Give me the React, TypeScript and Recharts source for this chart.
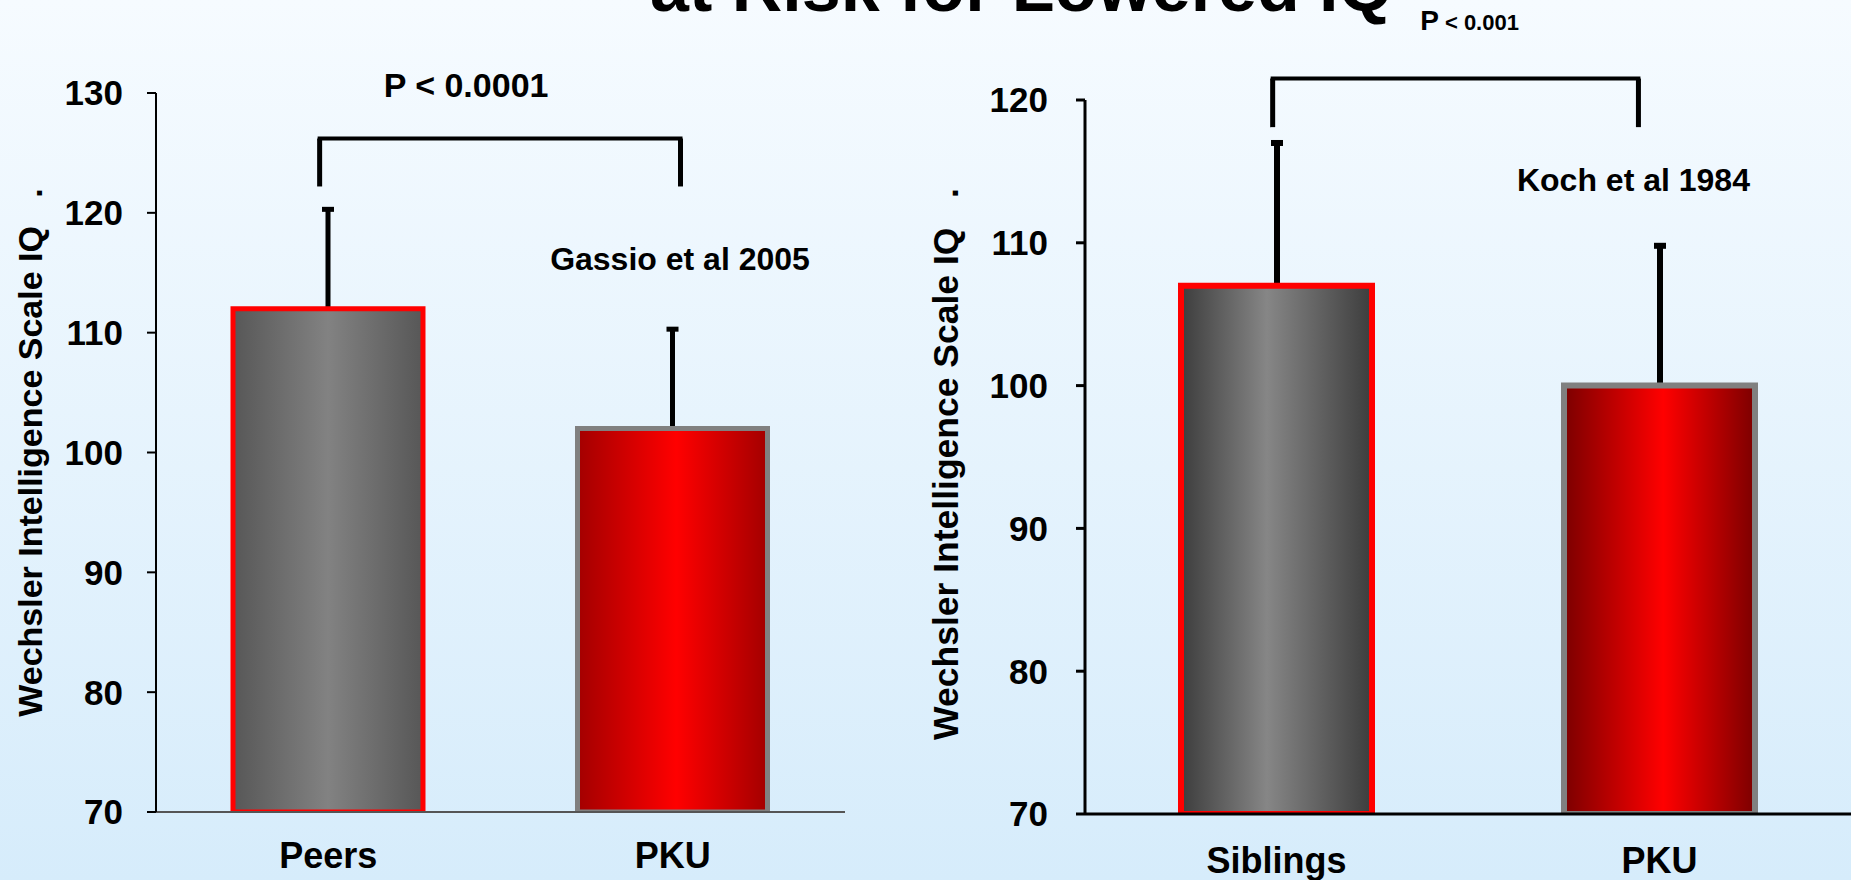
import React from 'react';
import { BarChart, Bar, XAxis, YAxis, Cell, ReferenceLine, ReferenceDot } from 'recharts';

// ---------- data ----------
const leftCategories = ['Peers', 'PKU'];
const leftMeans = [112, 102];
const leftSD = [8.5, 8.5];
const leftTicks = [70, 80, 90, 100, 110, 120, 130];

const rightCategories = ['Siblings', 'PKU'];
const rightMeans = [107, 100];
const rightSD = [10.2, 10];
const rightTicks = [70, 80, 90, 100, 110, 120];

const yAxisTitle = 'Wechsler Intelligence Scale IQ\u00A0\u00A0\u00A0.';
const slideTitle = 'at Risk for Lowered IQ';

// annotation positions in data units (x: 0..2 across the category axis)
const leftBracketX = [0.475, 1.5225];
const leftBracketY = [126.2, 122.2];
const rightBracketX = [0.49, 1.445];
const rightBracketY = [121.5, 118.1];
const leftPText = { x: 0.9, y: 129.7, text: 'P < 0.0001' };
const leftRefText = { x: 1.521, y: 115.2, text: 'Gassio et al 2005' };
const rightPText = { x: 0.875, y: 124.9, big: 'P', small: ' < 0.001' };
const rightRefText = { x: 1.432, y: 113.6, text: 'Koch et al 1984' };

const FONT = '"Liberation Sans", Arial, Helvetica, sans-serif';

const buildRows = (cats: string[], means: number[], sds: number[]) =>
  cats.map((c, i) => ({ cat: c, iq: means[i], sd: sds[i], pos: i + 0.5 }));

const leftRows = buildRows(leftCategories, leftMeans, leftSD);
const rightRows = buildRows(rightCategories, rightMeans, rightSD);

const makeWhisker = (w: number, cap: number) => (props: any) => {
  const { x, y, width, height } = props;
  if (x == null || y == null) return <g />;
  const cx = x + width / 2;
  return (
    <g>
      <line x1={cx} x2={cx} y1={y + height} y2={y + 2} stroke="#000" strokeWidth={w} />
      <rect x={cx - cap / 2} y={y} width={cap} height={w} fill="#000" />
    </g>
  );
};

const textLabel = (text: string, size: number, anchor: string) => (props: any) => {
  const vb = props.viewBox || {};
  const x = (vb.x ?? 0) + (vb.width ?? 0) / 2;
  const y = (vb.y ?? 0) + (vb.height ?? 0) / 2;
  return (
    <text x={x} y={y} textAnchor={anchor} fontFamily={FONT} fontWeight="bold" fontSize={size} fill="#000">
      {text}
    </text>
  );
};

const pLabelSmall = (big: string, small: string) => (props: any) => {
  const vb = props.viewBox || {};
  const x = (vb.x ?? 0) + (vb.width ?? 0) / 2;
  const y = (vb.y ?? 0) + (vb.height ?? 0) / 2;
  return (
    <text x={x} y={y} textAnchor="start" fontFamily={FONT} fontWeight="bold" fill="#000">
      <tspan fontSize={28}>{big}</tspan>
      <tspan fontSize={22}>{small}</tspan>
    </text>
  );
};

const yTitle = (dx: number, dy: number, size: number) => (props: any) => {
  const vb = props.viewBox || {};
  const bx = (vb.x ?? 0) + dx;
  const cy = (vb.y ?? 0) + (vb.height ?? 0) / 2 + dy;
  return (
    <text
      x={bx}
      y={cy}
      transform={`rotate(-90, ${bx}, ${cy})`}
      textAnchor="middle"
      fontFamily={FONT}
      fontWeight="bold"
      fontSize={size}
      fill="#000"
    >
      {yAxisTitle}
    </text>
  );
};

function App() {
  const tickStyle = { fontFamily: FONT, fontWeight: 'bold', fontSize: 35, fill: '#000' } as any;
  const catStyle = { fontFamily: FONT, fontWeight: 'bold', fontSize: 36, fill: '#000' } as any;

  return (
    <div style={{ position: 'fixed', left: 0, top: 0, width: 1851, height: 880, overflow: 'hidden' }}>
      <svg width={1851} height={880} style={{ position: 'absolute', left: 0, top: 0 }}>
        <defs>
          <linearGradient id="bgGrad" x1="0" y1="0" x2="0" y2="1">
            <stop offset="0%" stopColor="#f6fbff" />
            <stop offset="100%" stopColor="#d6ecfb" />
          </linearGradient>
        </defs>
        <rect x={0} y={0} width={1851} height={880} fill="url(#bgGrad)" />
        <text x={1393} y={11} textAnchor="end" fontFamily={FONT} fontWeight="bold" fontSize={70} fill="#000">
          {slideTitle}
        </text>
      </svg>

      {/* Left chart */}
      <div style={{ position: 'absolute', left: 0, top: 0 }}>
        <BarChart
          width={900}
          height={880}
          data={leftRows}
          margin={{ top: 93, right: 55, bottom: 8, left: 56 }}
          barCategoryGap={0}
        >
          <defs>
            <linearGradient id="greyL" x1="0" y1="0" x2="1" y2="0">
              <stop offset="0%" stopColor="#575757" />
              <stop offset="50%" stopColor="#828282" />
              <stop offset="100%" stopColor="#575757" />
            </linearGradient>
            <linearGradient id="redL" x1="0" y1="0" x2="1" y2="0">
              <stop offset="0%" stopColor="#a30000" />
              <stop offset="52%" stopColor="#ff0000" />
              <stop offset="100%" stopColor="#a30000" />
            </linearGradient>
          </defs>
          <XAxis
            dataKey="cat"
            height={60}
            tick={catStyle}
            tickLine={false}
            tickSize={6}
            tickMargin={24}
            axisLine={{ stroke: '#555', strokeWidth: 2 }}
          />
          <XAxis xAxisId="w" dataKey="cat" hide />
          <XAxis xAxisId="n" dataKey="pos" type="number" domain={[0, 2]} allowDataOverflow hide />
          <YAxis
            width={100}
            domain={[70, 130]}
            ticks={leftTicks}
            interval={0}
            allowDataOverflow
            tick={tickStyle}
            tickSize={9}
            tickMargin={24}
            tickLine={{ stroke: '#000', strokeWidth: 2 }}
            axisLine={{ stroke: '#000', strokeWidth: 2 }}
            label={{ content: yTitle(-14, 0, 34) } as any}
          />
          <Bar
            xAxisId="w"
            dataKey={(d: any) => [d.iq, d.iq + d.sd]}
            barSize={20}
            isAnimationActive={false}
            shape={makeWhisker(5, 12)}
          />
          <Bar dataKey="iq" barSize={190} strokeWidth={5} isAnimationActive={false}>
            <Cell fill="url(#greyL)" stroke="#ff0000" />
            <Cell fill="url(#redL)" stroke="#808080" />
          </Bar>
          <ReferenceLine
            xAxisId="n"
            ifOverflow="visible"
            segment={[{ x: leftBracketX[0], y: leftBracketY[0] }, { x: leftBracketX[1], y: leftBracketY[0] }]}
            stroke="#000"
            strokeWidth={4}
            strokeLinecap="square"
          />
          <ReferenceLine
            xAxisId="n"
            ifOverflow="visible"
            segment={[{ x: leftBracketX[0], y: leftBracketY[0] }, { x: leftBracketX[0], y: leftBracketY[1] }]}
            stroke="#000"
            strokeWidth={5}
          />
          <ReferenceLine
            xAxisId="n"
            ifOverflow="visible"
            segment={[{ x: leftBracketX[1], y: leftBracketY[0] }, { x: leftBracketX[1], y: leftBracketY[1] }]}
            stroke="#000"
            strokeWidth={5}
          />
          <ReferenceDot
            xAxisId="n"
            x={leftPText.x}
            y={leftPText.y}
            r={0}
            fill="none"
            stroke="none"
            ifOverflow="visible"
            label={{ content: textLabel(leftPText.text, 34, 'middle') } as any}
          />
          <ReferenceDot
            xAxisId="n"
            x={leftRefText.x}
            y={leftRefText.y}
            r={0}
            fill="none"
            stroke="none"
            ifOverflow="visible"
            label={{ content: textLabel(leftRefText.text, 32, 'middle') } as any}
          />
        </BarChart>
      </div>

      {/* Right chart */}
      <div style={{ position: 'absolute', left: 900, top: 0 }}>
        <BarChart
          width={951}
          height={880}
          data={rightRows}
          margin={{ top: 100, right: 0, bottom: 6, left: 65 }}
          barCategoryGap={0}
        >
          <defs>
            <linearGradient id="greyR" x1="0" y1="0" x2="1" y2="0">
              <stop offset="0%" stopColor="#3d3d3d" />
              <stop offset="45%" stopColor="#868686" />
              <stop offset="100%" stopColor="#3d3d3d" />
            </linearGradient>
            <linearGradient id="redR" x1="0" y1="0" x2="1" y2="0">
              <stop offset="0%" stopColor="#7c0000" />
              <stop offset="52%" stopColor="#ff0000" />
              <stop offset="100%" stopColor="#7c0000" />
            </linearGradient>
          </defs>
          <XAxis
            dataKey="cat"
            height={60}
            tick={catStyle}
            tickLine={false}
            tickSize={6}
            tickMargin={27}
            axisLine={{ stroke: '#000', strokeWidth: 3 }}
          />
          <XAxis xAxisId="w" dataKey="cat" hide />
          <XAxis xAxisId="n" dataKey="pos" type="number" domain={[0, 2]} allowDataOverflow hide />
          <YAxis
            width={120}
            domain={[70, 120]}
            ticks={rightTicks}
            interval={0}
            allowDataOverflow
            tick={tickStyle}
            tickSize={9}
            tickMargin={28}
            tickLine={{ stroke: '#000', strokeWidth: 3 }}
            axisLine={{ stroke: '#000', strokeWidth: 3 }}
            label={{ content: yTitle(-7, 7, 35.5) } as any}
          />
          <Bar
            xAxisId="w"
            dataKey={(d: any) => [d.iq, d.iq + d.sd]}
            barSize={20}
            isAnimationActive={false}
            shape={makeWhisker(6, 12)}
          />
          <Bar dataKey="iq" barSize={191} strokeWidth={6} isAnimationActive={false}>
            <Cell fill="url(#greyR)" stroke="#ff0000" />
            <Cell fill="url(#redR)" stroke="#808080" />
          </Bar>
          <ReferenceLine
            xAxisId="n"
            ifOverflow="visible"
            segment={[{ x: rightBracketX[0], y: rightBracketY[0] }, { x: rightBracketX[1], y: rightBracketY[0] }]}
            stroke="#000"
            strokeWidth={4}
            strokeLinecap="square"
          />
          <ReferenceLine
            xAxisId="n"
            ifOverflow="visible"
            segment={[{ x: rightBracketX[0], y: rightBracketY[0] }, { x: rightBracketX[0], y: rightBracketY[1] }]}
            stroke="#000"
            strokeWidth={5}
          />
          <ReferenceLine
            xAxisId="n"
            ifOverflow="visible"
            segment={[{ x: rightBracketX[1], y: rightBracketY[0] }, { x: rightBracketX[1], y: rightBracketY[1] }]}
            stroke="#000"
            strokeWidth={5}
          />
          <ReferenceDot
            xAxisId="n"
            x={rightPText.x}
            y={rightPText.y}
            r={0}
            fill="none"
            stroke="none"
            ifOverflow="visible"
            label={{ content: pLabelSmall(rightPText.big, rightPText.small) } as any}
          />
          <ReferenceDot
            xAxisId="n"
            x={rightRefText.x}
            y={rightRefText.y}
            r={0}
            fill="none"
            stroke="none"
            ifOverflow="visible"
            label={{ content: textLabel(rightRefText.text, 32, 'middle') } as any}
          />
        </BarChart>
      </div>
    </div>
  );
}

export default App;
